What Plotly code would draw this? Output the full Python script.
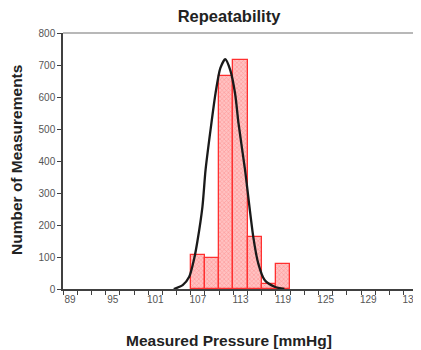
import plotly.graph_objects as go

# ---- data ----
bar_centers = [107, 109, 111, 113, 115, 117, 119]          # mmHg (2 mmHg bins)
bar_counts = [105, 97, 665, 715, 163, 15, 78]

curve_x = [103.6, 104.86, 105.78, 106.48, 106.94, 107.64, 108.08, 108.78, 109.48,
           110.16, 110.86, 111.56, 112.24, 112.72, 113.64, 114.8, 115.5, 116.4,
           117.8, 119.18]
curve_y = [0, 12, 38, 95, 150, 257, 372, 497, 611, 690, 718, 684, 611, 518,
           372, 163, 80, 28, 7, 0]

tick_positions = [89, 95, 101, 107, 113, 119, 125, 131, 137]
tick_labels = ["89", "95", "101", "107", "113", "119", "125", "129", "131"]
y_ticks = [0, 100, 200, 300, 400, 500, 600, 700, 800]

FONT = "Liberation Sans, Arial, sans-serif"
OFF = 8  # page body margin

W, H = 421 - OFF, 350 - OFF
L, T, B, R = 63 - OFF, 33 - OFF, 61, 1
PW = W - L - R

fig = go.Figure()
fig.add_trace(go.Bar(
    x=bar_centers, y=bar_counts, width=2,
    marker=dict(color="#ffb0b0",
                line=dict(color="#ff3030", width=1.3),
                pattern=dict(shape="x", size=3, solidity=0.35,
                             fgcolor="#ff6a6a", bgcolor="#ffc2c2")),
    showlegend=False,
))
fig.add_trace(go.Scatter(
    x=curve_x, y=curve_y, mode="lines",
    line=dict(color="#1a1a1a", width=2.3, shape="spline", smoothing=0.7),
    showlegend=False,
))

fig.update_layout(
    width=W, height=H,
    margin=dict(l=L, r=R, t=T, b=B),
    paper_bgcolor="white", plot_bgcolor="white",
    font=dict(family=FONT),
    title=dict(text="<b>Repeatability</b>", x=(229 - OFF) / W, xanchor="center",
               y=1 - (16 - OFF) / H, yanchor="middle", yref="container",
               font=dict(size=16.5, color="#222222", family=FONT)),
    bargap=0,
    xaxis=dict(range=[88, 137.44], tickmode="array", tickvals=tick_positions,
               ticktext=tick_labels, ticks="", showgrid=False, zeroline=False,
               showline=True, linecolor="#404040", linewidth=1.5,
               ticklabeloverflow="allow",
               tickfont=dict(size=10, color="#555555"),
               minor=dict(tick0=88, dtick=2, ticks="outside", ticklen=4,
                          tickcolor="#404040", tickwidth=1, showgrid=False)),
    yaxis=dict(range=[0, 800], tickmode="array", tickvals=y_ticks,
               ticks="outside", ticklen=4, tickcolor="#404040",
               showgrid=False, zeroline=False, showline=True,
               linecolor="#404040", linewidth=1.5,
               tickfont=dict(size=10, color="#555555")),
    shapes=[dict(type="line", xref="paper", yref="paper", x0=0, x1=1, y0=1, y1=1,
                 line=dict(color="#a0a0a0", width=1.5)),
            dict(type="line", xref="paper", yref="paper", x0=1, x1=1, y0=0, y1=1,
                 line=dict(color="#a0a0a0", width=1.5))],
    annotations=[
        dict(text="<b>Measured Pressure [mmHg]</b>", xref="paper", yref="paper",
             x=(231.5 - 63) / PW, y=0, yshift=-51, xanchor="center",
             yanchor="middle", showarrow=False,
             font=dict(size=15.5, color="#222222", family=FONT)),
        dict(text="<b>Number of Measurements</b>", xref="paper", yref="paper",
             x=0, xshift=-46, y=0.504, xanchor="center", yanchor="middle",
             textangle=-90, showarrow=False,
             font=dict(size=15.5, color="#222222", family=FONT)),
    ],
)

fig.write_html("out.html")
